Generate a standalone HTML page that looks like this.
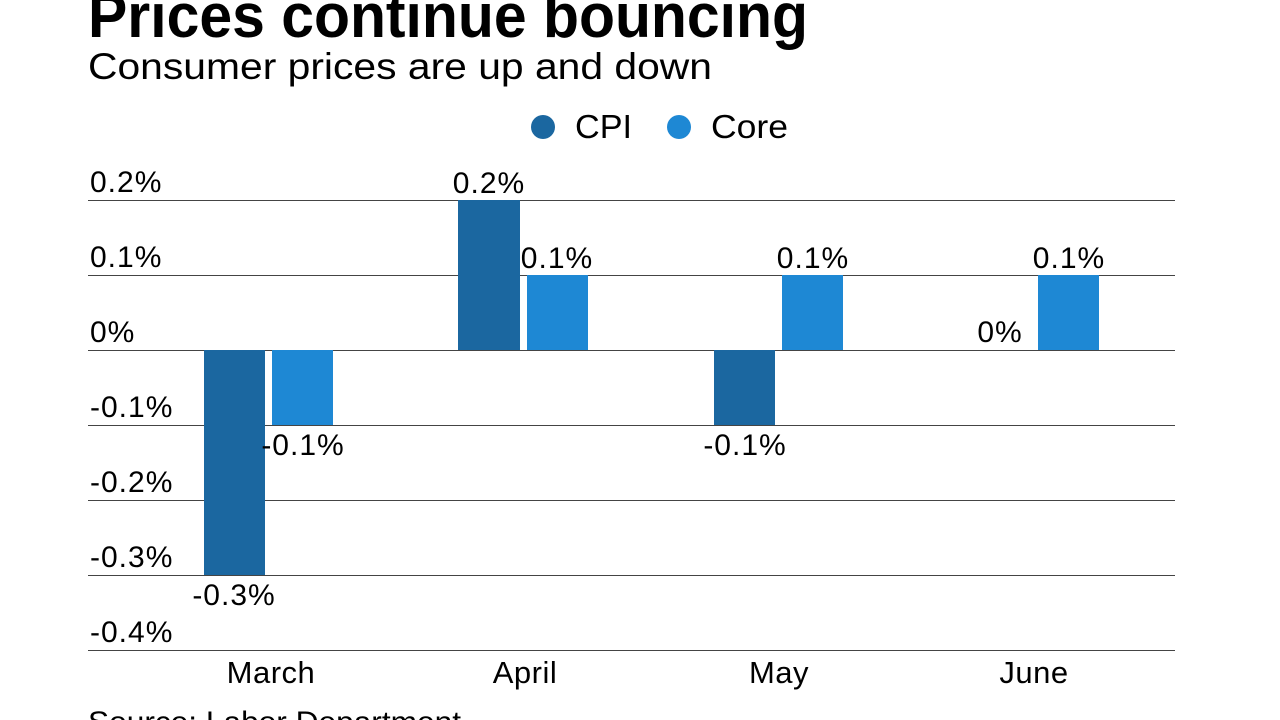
<!DOCTYPE html>
<html><head><meta charset="utf-8"><style>
html,body{margin:0;padding:0;background:#fff;width:1280px;height:720px;overflow:hidden}
svg{display:block;font-family:"Liberation Sans",sans-serif}
</style></head><body>
<svg width="1280" height="720" viewBox="0 0 1280 720">
<text x="88" y="37" font-size="62" font-weight="bold" fill="#000" textLength="720" lengthAdjust="spacingAndGlyphs">Prices continue bouncing</text>
<text x="88" y="79" font-size="37" fill="#000" textLength="624" lengthAdjust="spacingAndGlyphs">Consumer prices are up and down</text>
<circle cx="543" cy="127" r="12" fill="#1b67a0"/>
<text x="575" y="138" font-size="33" fill="#000" textLength="57" lengthAdjust="spacingAndGlyphs">CPI</text>
<circle cx="679" cy="127" r="12" fill="#1e88d4"/>
<text x="711" y="138" font-size="33" fill="#000" textLength="77" lengthAdjust="spacingAndGlyphs">Core</text>
<g stroke="#444" stroke-width="1">
<line x1="88" y1="200.5" x2="1175" y2="200.5"/>
<line x1="88" y1="275.5" x2="1175" y2="275.5"/>
<line x1="88" y1="350.5" x2="1175" y2="350.5"/>
<line x1="88" y1="425.5" x2="1175" y2="425.5"/>
<line x1="88" y1="500.5" x2="1175" y2="500.5"/>
<line x1="88" y1="575.5" x2="1175" y2="575.5"/>
<line x1="88" y1="650.5" x2="1175" y2="650.5"/>
</g>
<g font-size="30" fill="#000" letter-spacing="1">
<text x="90" y="192">0.2%</text>
<text x="90" y="267">0.1%</text>
<text x="90" y="342">0%</text>
<text x="90" y="417">-0.1%</text>
<text x="90" y="492">-0.2%</text>
<text x="90" y="567">-0.3%</text>
<text x="90" y="642">-0.4%</text>
</g>
<rect x="204" y="350" width="61" height="225" fill="#1b67a0"/>
<rect x="272" y="350" width="61" height="75" fill="#1e88d4"/>
<rect x="458" y="200" width="62" height="150" fill="#1b67a0"/>
<rect x="527" y="275" width="61" height="75" fill="#1e88d4"/>
<rect x="714" y="350" width="61" height="75" fill="#1b67a0"/>
<rect x="782" y="275" width="61" height="75" fill="#1e88d4"/>
<rect x="1038" y="275" width="61" height="75" fill="#1e88d4"/>
<g font-size="30" fill="#000" text-anchor="middle" letter-spacing="1">
<text x="234" y="605">-0.3%</text>
<text x="303" y="455">-0.1%</text>
<text x="489" y="193">0.2%</text>
<text x="557" y="268">0.1%</text>
<text x="745" y="455">-0.1%</text>
<text x="813" y="268">0.1%</text>
<text x="1000" y="342">0%</text>
<text x="1069" y="268">0.1%</text>
</g>
<g font-size="31" fill="#000" text-anchor="middle" letter-spacing="0.5">
<text x="271" y="683">March</text>
<text x="525" y="683">April</text>
<text x="779" y="683">May</text>
<text x="1034" y="683">June</text>
</g>
<text x="88" y="732" font-size="30" fill="#000" textLength="373" lengthAdjust="spacingAndGlyphs">Source: Labor Department</text>
</svg>
</body></html>
